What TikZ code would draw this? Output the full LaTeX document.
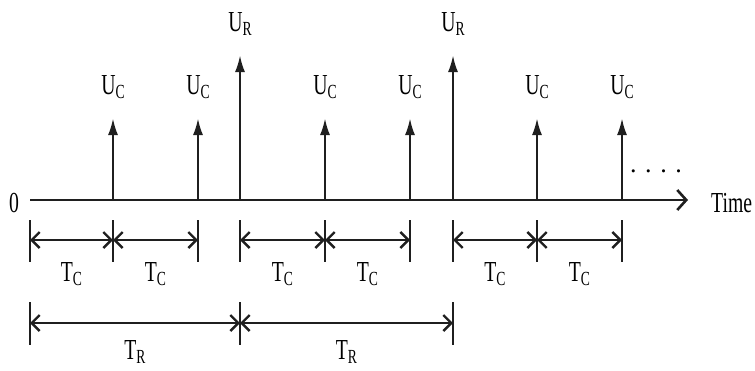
\documentclass[tikz,border=0pt]{standalone}
\usepackage{fontspec}
\setmainfont{Liberation Serif}
\usetikzlibrary{arrows.meta}
\newcommand{\sq}[1]{\scalebox{0.68}[1]{#1}}
\newcommand{\lbl}[2]{\sq{#1\raisebox{-4pt}{\fontsize{20}{20}\selectfont #2}}}
\colorlet{ink}{black!88}
\begin{document}
\begin{tikzpicture}[x=1pt,y=-1pt,
  pulse/.style={draw=ink, line width=2.4pt, -{Latex[length=17pt,width=10pt]}},
  axisline/.style={draw=ink, line width=2.8pt, -{Straight Barb[length=9pt,width=20pt,line width=2.6pt]}},
  dim/.style={draw=ink, line width=2.4pt, {Straight Barb[length=8pt,width=16pt]}-{Straight Barb[length=8pt,width=16pt]}},
  tickline/.style={draw=ink, line width=2pt},
  lab/.style={inner sep=0pt, anchor=base, text=black, font=\fontsize{29}{31}\selectfont},
]
\useasboundingbox (0,0) rectangle (755,370);
% axis
\coordinate (a0) at (30,200);
\coordinate (aend) at (688,200);
\draw[axisline] (a0) -- (aend);
\node[lab] (zero) at (14,212) {\sq{0}};
\node[lab, anchor=base west] (time) at (711,212) {\sq{Time}};
\node[lab, font=\fontsize{26}{28}\selectfont] (dots) at (656,172) {. . . .};
% pulses
\foreach \n/\x/\t/\s in {c1/113/118/C, c2/198/118/C, r1/240/55/R, c3/325/118/C, c4/410/118/C, r2/453/55/R, c5/537/118/C, c6/622/118/C}{
  \coordinate (\n b) at (\x,200);
  \coordinate (\n t) at (\x,\t);
  \draw[pulse] (\n b) -- (\n t);
  \node[lab] (\n l) at (\x,\t-24) {\lbl{U}{\s}};
}
% Tc dimension ticks
\foreach \n/\x in {k0/30,k1/113,k2/198,k3/240,k4/325,k5/410,k6/453,k7/537,k8/622}{
  \coordinate (\n u) at (\x,220);
  \coordinate (\n d) at (\x,262);
  \coordinate (\n m) at (\x,240);
  \draw[tickline] (\n u) -- (\n d);
}
\foreach \a/\b in {k0/k1,k1/k2,k3/k4,k4/k5,k6/k7,k7/k8}{
  \draw[dim] (\a m) -- (\b m);
  \path (\a m) -- (\b m) node[midway, lab, yshift=-41pt] (\a\b l) {\lbl{T}{C}};
}
% TR dimension
\foreach \n/\x in {r0/30,r1/240,r2/453}{
  \coordinate (\n u) at (\x,302);
  \coordinate (\n d) at (\x,345);
  \coordinate (\n m) at (\x,323);
  \draw[tickline] (\n u) -- (\n d);
}
\foreach \a/\b in {r0/r1,r1/r2}{
  \draw[dim] (\a m) -- (\b m);
  \path (\a m) -- (\b m) node[midway, lab, yshift=-36pt] (\a\b l) {\lbl{T}{R}};
}
\end{tikzpicture}
\end{document}
